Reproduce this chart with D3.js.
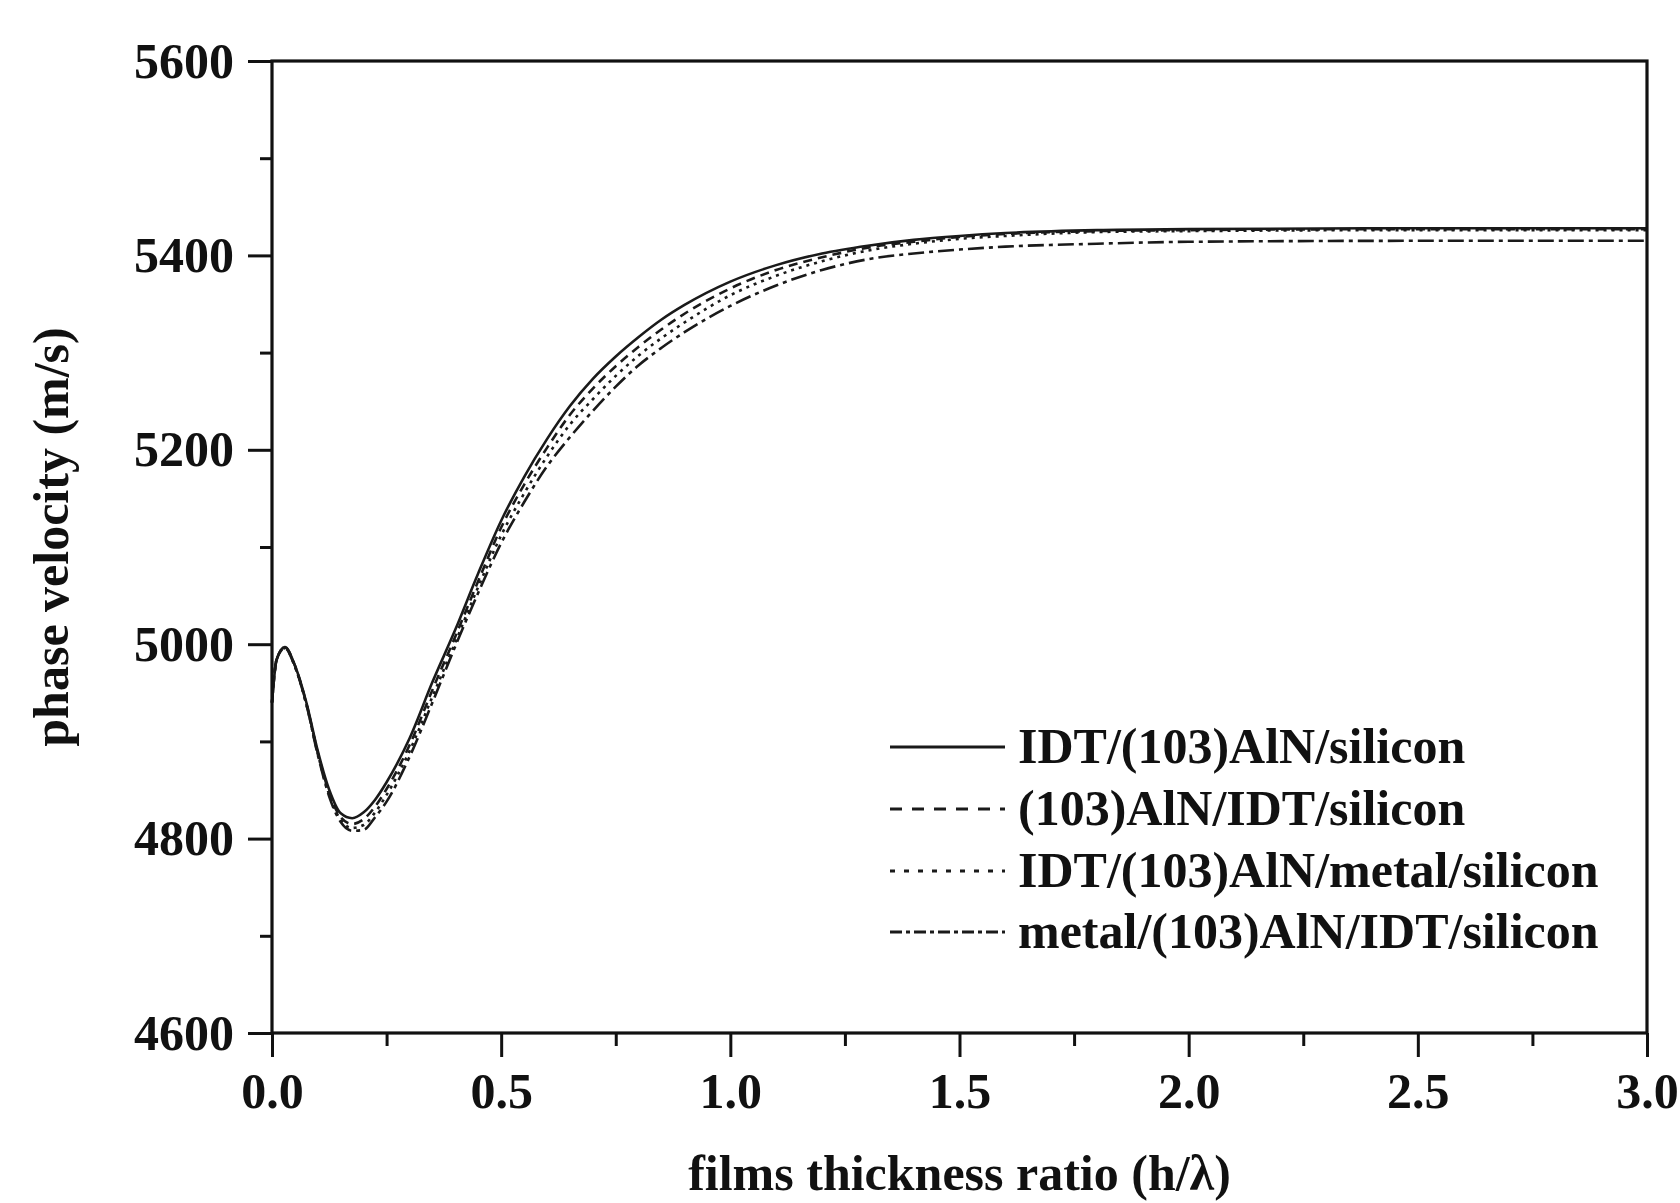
<!DOCTYPE html>
<html>
<head>
<meta charset="utf-8">
<script src="https://cdn.jsdelivr.net/npm/d3@7/dist/d3.min.js"></script>
<style>
  html, body { margin: 0; padding: 0; background: #fff; }
  svg { display: block; }
  text { font-family: "Liberation Serif", "Times New Roman", serif; font-weight: bold; fill: #111; }
</style>
</head>
<body>
<svg id="chart" width="1680" height="1203"></svg>
<script>
// ---- data ----
const xs = [0, 0.01, 0.028, 0.05, 0.075, 0.1, 0.125, 0.15, 0.175, 0.2, 0.225, 0.25, 0.3, 0.35, 0.4, 0.45, 0.5, 0.55, 0.6, 0.65, 0.7, 0.75, 0.8, 0.85, 0.9, 1.0, 1.1, 1.2, 1.3, 1.4, 1.5, 1.6, 1.8, 2.0, 2.5, 3.0];

const idtAlnSilicon      = [4940, 4984, 4997, 4978, 4940, 4890, 4850, 4826, 4821, 4827, 4840, 4858, 4903, 4961, 5015, 5073, 5127, 5172, 5211, 5245, 5273, 5296, 5316, 5334, 5349, 5373, 5390, 5402, 5410, 5416, 5420, 5423, 5426, 5427, 5428, 5428];
const alnIdtSilicon      = [4940, 4984, 4997, 4978, 4939, 4888, 4847, 4822, 4815, 4820, 4833, 4851, 4896, 4953, 5008, 5065, 5120, 5164, 5202, 5236, 5263, 5286, 5306, 5324, 5340, 5366, 5385, 5398, 5408, 5414, 5419, 5422, 5425, 5426, 5427, 5427];
const idtAlnMetalSilicon = [4940, 4984, 4996, 4977, 4938, 4887, 4845, 4819, 4811, 4814, 4827, 4845, 4890, 4946, 5002, 5059, 5112, 5155, 5193, 5226, 5252, 5276, 5297, 5315, 5331, 5359, 5379, 5394, 5405, 5412, 5417, 5420, 5424, 5425, 5426, 5426];
const metalAlnIdtSilicon = [4940, 4984, 4996, 4977, 4938, 4886, 4843, 4817, 4808, 4809, 4822, 4838, 4884, 4940, 4998, 5053, 5104, 5146, 5183, 5213, 5240, 5265, 5287, 5305, 5321, 5348, 5369, 5385, 5396, 5402, 5406, 5409, 5412, 5414, 5415, 5415];

const seriesNames = ["IDT/(103)AlN/silicon", "(103)AlN/IDT/silicon", "IDT/(103)AlN/metal/silicon", "metal/(103)AlN/IDT/silicon"];
const seriesValues = [idtAlnSilicon, alnIdtSilicon, idtAlnMetalSilicon, metalAlnIdtSilicon];

const xTickValues = [0, 0.5, 1.0, 1.5, 2.0, 2.5, 3.0];
const xTickLabels = ["0.0", "0.5", "1.0", "1.5", "2.0", "2.5", "3.0"];
const xMinorTicks = [0.25, 0.75, 1.25, 1.75, 2.25, 2.75];
const yTickValues = [4600, 4800, 5000, 5200, 5400, 5600];
const yTickLabels = ["4600", "4800", "5000", "5200", "5400", "5600"];
const yMinorTicks = [4700, 4900, 5100, 5300, 5500];

const xTitle = "films thickness ratio (h/\u03bb)";
const yTitle = "phase velocity (m/s)";

// ---- layout ----
const L = 272, R = 1647, T = 61, B = 1033;
const svg = d3.select("#chart");
const x = d3.scaleLinear().domain([0, 3]).range([L, R]);
const y = d3.scaleLinear().domain([4600, 5600]).range([B, T]);

const dashes = [null, "9,6", "3,5", "16,5,4,5"];
const legendDashes = [null, "12,10", "5,9", "12,4,4,4"];
const fontSize = 50;

// curves
const line = d3.line().x(d => x(d[0])).y(d => y(d[1])).curve(d3.curveMonotoneX);
const gCurves = svg.append("g");
seriesValues.forEach((vals, i) => {
  gCurves.append("path")
    .datum(xs.map((xv, k) => [xv, vals[k]]))
    .attr("d", line)
    .attr("fill", "none")
    .attr("stroke", "#1a1a1a")
    .attr("stroke-width", 2.6)
    .attr("stroke-dasharray", dashes[i]);
});

// axes ticks
function styleAxis(g) {
  g.select(".domain").remove();
  g.selectAll(".tick line").attr("stroke", "#111").attr("stroke-width", 3);
}
const xMajor = svg.append("g").attr("transform", `translate(0,${B})`)
  .call(d3.axisBottom(x).tickValues(xTickValues).tickSize(24).tickFormat((d, i) => xTickLabels[i]));
styleAxis(xMajor);
xMajor.selectAll(".tick text").attr("y", 75).attr("dy", 0)
  .attr("font-size", fontSize).attr("fill", "#111")
  .style("font-family", "Liberation Serif").style("font-weight", "bold");

const xMin = svg.append("g").attr("transform", `translate(0,${B})`)
  .call(d3.axisBottom(x).tickValues(xMinorTicks).tickSize(13).tickFormat(""));
styleAxis(xMin);

const yMajor = svg.append("g").attr("transform", `translate(${L},0)`)
  .call(d3.axisLeft(y).tickValues(yTickValues).tickSize(24).tickFormat((d, i) => yTickLabels[i]));
styleAxis(yMajor);
yMajor.selectAll(".tick text").attr("x", -38).attr("dy", 16)
  .attr("font-size", fontSize).attr("fill", "#111")
  .style("font-family", "Liberation Serif").style("font-weight", "bold");

const yMin = svg.append("g").attr("transform", `translate(${L},0)`)
  .call(d3.axisLeft(y).tickValues(yMinorTicks).tickSize(12).tickFormat(""));
styleAxis(yMin);

// frame
svg.append("rect")
  .attr("x", L).attr("y", T).attr("width", R - L).attr("height", B - T)
  .attr("fill", "none").attr("stroke", "#111").attr("stroke-width", 3.2);

// axis titles
svg.append("text")
  .attr("x", (L + R) / 2).attr("y", 1190)
  .attr("text-anchor", "middle").attr("font-size", fontSize)
  .text(xTitle);
svg.append("text")
  .attr("transform", `translate(68,537) rotate(-90)`)
  .attr("text-anchor", "middle").attr("font-size", fontSize)
  .text(yTitle);

// legend
const legendRows = [747, 809, 871, 932];
const lg = svg.append("g");
seriesNames.forEach((name, i) => {
  lg.append("line")
    .attr("x1", 890).attr("x2", 1005)
    .attr("y1", legendRows[i]).attr("y2", legendRows[i])
    .attr("stroke", "#1a1a1a").attr("stroke-width", 3)
    .attr("stroke-dasharray", legendDashes[i]);
  lg.append("text")
    .attr("x", 1018).attr("y", legendRows[i] + 16)
    .attr("font-size", fontSize)
    .text(name);
});
</script>
</body>
</html>
